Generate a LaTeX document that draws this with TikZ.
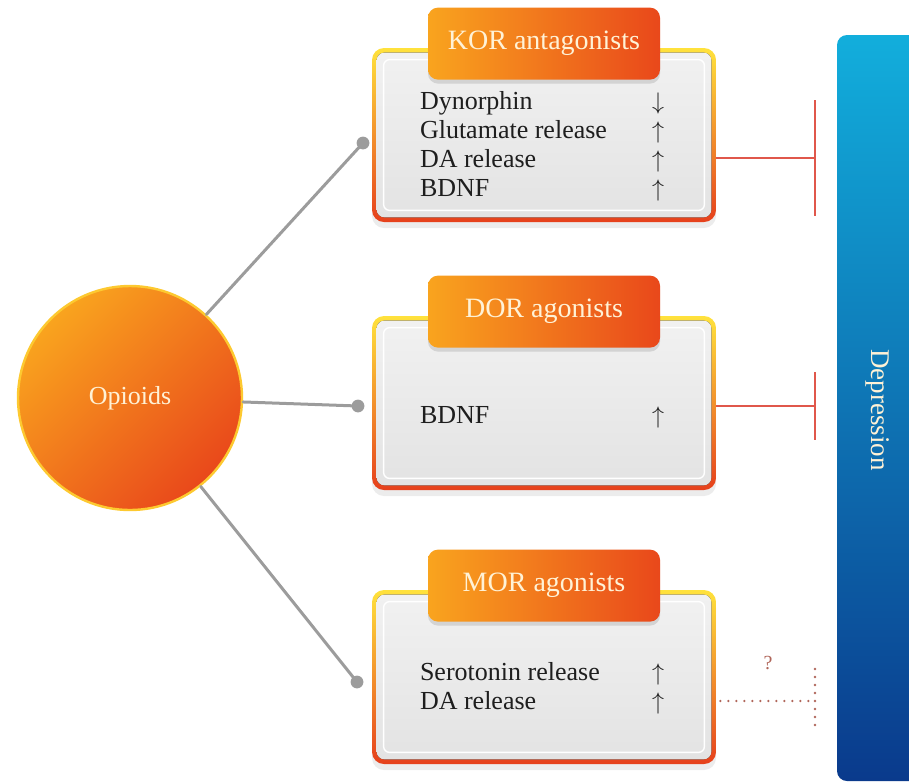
\documentclass[tikz,border=0pt]{standalone}
\usepackage{fontspec}
\setmainfont{Liberation Serif}
\usetikzlibrary{arrows.meta,calc,positioning,shadows}
\definecolor{Sun}{HTML}{FFE23C}
\definecolor{Gold}{HTML}{F8B02A}
\definecolor{Flame}{HTML}{E6401C}
\definecolor{Amber}{HTML}{F9A41E}
\definecolor{Ember}{HTML}{E9481B}
\definecolor{PaneHi}{HTML}{F1F1F1}
\definecolor{Pane}{HTML}{E3E3E3}
\definecolor{Steel}{HTML}{9C9C9C}
\definecolor{Cream}{HTML}{FFF2D6}
\definecolor{Ink}{HTML}{1E1E1E}
\definecolor{Block}{HTML}{E0574B}
\definecolor{Rust}{HTML}{B0665A}
\definecolor{Sky}{HTML}{12AEDC}
\definecolor{Navy}{HTML}{0A3A8C}
\tikzset{
  link/.style={line width=1.5pt,draw=Steel,line cap=round},
  block/.style={line width=1pt,draw=Block},
  maybe/.style={line width=1.3pt,draw=Rust,line cap=round,dash pattern=on 0pt off 4pt},
  ball/.style={circle,minimum size=112pt,inner sep=0pt,top color=Amber,bottom color=Ember,
    shading angle=45,draw=Sun!60!Amber,line width=1.2pt,text=Cream,font=\fontsize{13}{15}\selectfont},
  effectbox/.style={rounded corners=6pt,minimum width=172pt,minimum height=87pt,
    top color=Sun,middle color=Gold,bottom color=Flame,
    drop shadow={opacity=0.15,shadow xshift=0pt,shadow yshift=-3pt}},
  tabbox/.style={rounded corners=5pt,minimum width=116pt,minimum height=36pt,
    left color=Amber,right color=Ember,text=Cream,font=\fontsize{14}{16}\selectfont,
    drop shadow={opacity=0.25,shadow xshift=0pt,shadow yshift=-2pt}},
  items/.style={inner sep=0pt,text=Ink,font=\fontsize{13}{14.5}\selectfont},
  bar/.style={rounded corners=5pt,minimum width=44pt,minimum height=373pt,top color=Sky,bottom color=Navy},
  barlabel/.style={inner sep=0pt,text=Cream,font=\fontsize{13.5}{15}\selectfont},
  query/.style={inner sep=0pt,text=Rust,font=\fontsize{10}{12}\selectfont},
}

\begin{document}
\begin{tikzpicture}[x=0.5pt,y=-0.5pt]
  \useasboundingbox (0,0) rectangle (909,783);
  \node[bar] (depr) at (881,408) {};
  \node[barlabel,rotate=-90] (deprlabel) at (878,410) {Depression};

  \node[effectbox] (kor) at (544,135) {};
  \node[effectbox] (dor) at (544,403) {};
  \node[effectbox] (mor) at (544,677) {};
  \foreach \b in {kor,dor,mor}{
    \fill[top color=PaneHi,bottom color=Pane,rounded corners=4pt]
      ([shift={(2.5pt,-2.5pt)}]\b.north west) rectangle ([shift={(-2.5pt,2.5pt)}]\b.south east);
    \draw[white,line width=0.7pt,rounded corners=3pt]
      ([shift={(6pt,-6pt)}]\b.north west) rectangle ([shift={(-6pt,6pt)}]\b.south east);
  }
  \node[tabbox] (kortab) at ([yshift=2pt]kor.north) {KOR antagonists};
  \node[tabbox] (dortab) at ([yshift=2pt]dor.north) {DOR agonists};
  \node[tabbox] (mortab) at ([yshift=2pt]mor.north) {MOR agonists};

  \node[items] (koritems) at ([xshift=-1pt,yshift=-6pt]kor.center) {\begin{tabular}{@{}p{116pt}@{}c@{}}
    Dynorphin & $\downarrow$\\
    Glutamate release & $\uparrow$\\
    DA release & $\uparrow$\\
    BDNF & $\uparrow$
  \end{tabular}};
  \node[items] (doritems) at ([xshift=-1pt,yshift=-7.5pt]dor.center) {\begin{tabular}{@{}p{116pt}@{}c@{}}
    BDNF & $\uparrow$
  \end{tabular}};
  \node[items] (moritems) at ([xshift=-1pt,yshift=-6pt]mor.center) {\begin{tabular}{@{}p{116pt}@{}c@{}}
    Serotonin release & $\uparrow$\\
    DA release & $\uparrow$
  \end{tabular}};

  \node[ball] (opioids) at (130,398) {Opioids};
  \coordinate (kordot) at (363,143);
  \coordinate (dordot) at (358,406);
  \coordinate (mordot) at (357,682);
  \foreach \b in {kor,dor,mor}{
    \draw[link] (opioids) -- (\b dot);
    \fill[Steel] (\b dot) circle (3.2pt);
  }

  \coordinate (korbar) at (815,158);
  \coordinate (dorbar) at (815,406);
  \coordinate (morbar) at (815,701);
  \draw[block] (kor.east |- korbar) -- (korbar);
  \draw[block] ([yshift=29pt]korbar) -- ([yshift=-29pt]korbar);
  \draw[block] (dor.east |- dorbar) -- (dorbar);
  \draw[block] ([yshift=17pt]dorbar) -- ([yshift=-17pt]dorbar);
  \draw[maybe] ([xshift=2pt]mor.east |- morbar) -- (morbar);
  \draw[maybe] ([yshift=16pt]morbar) -- ([yshift=-15pt]morbar);
  \node[query] (morquery) at (768,663) {?};
\end{tikzpicture}
\end{document}
